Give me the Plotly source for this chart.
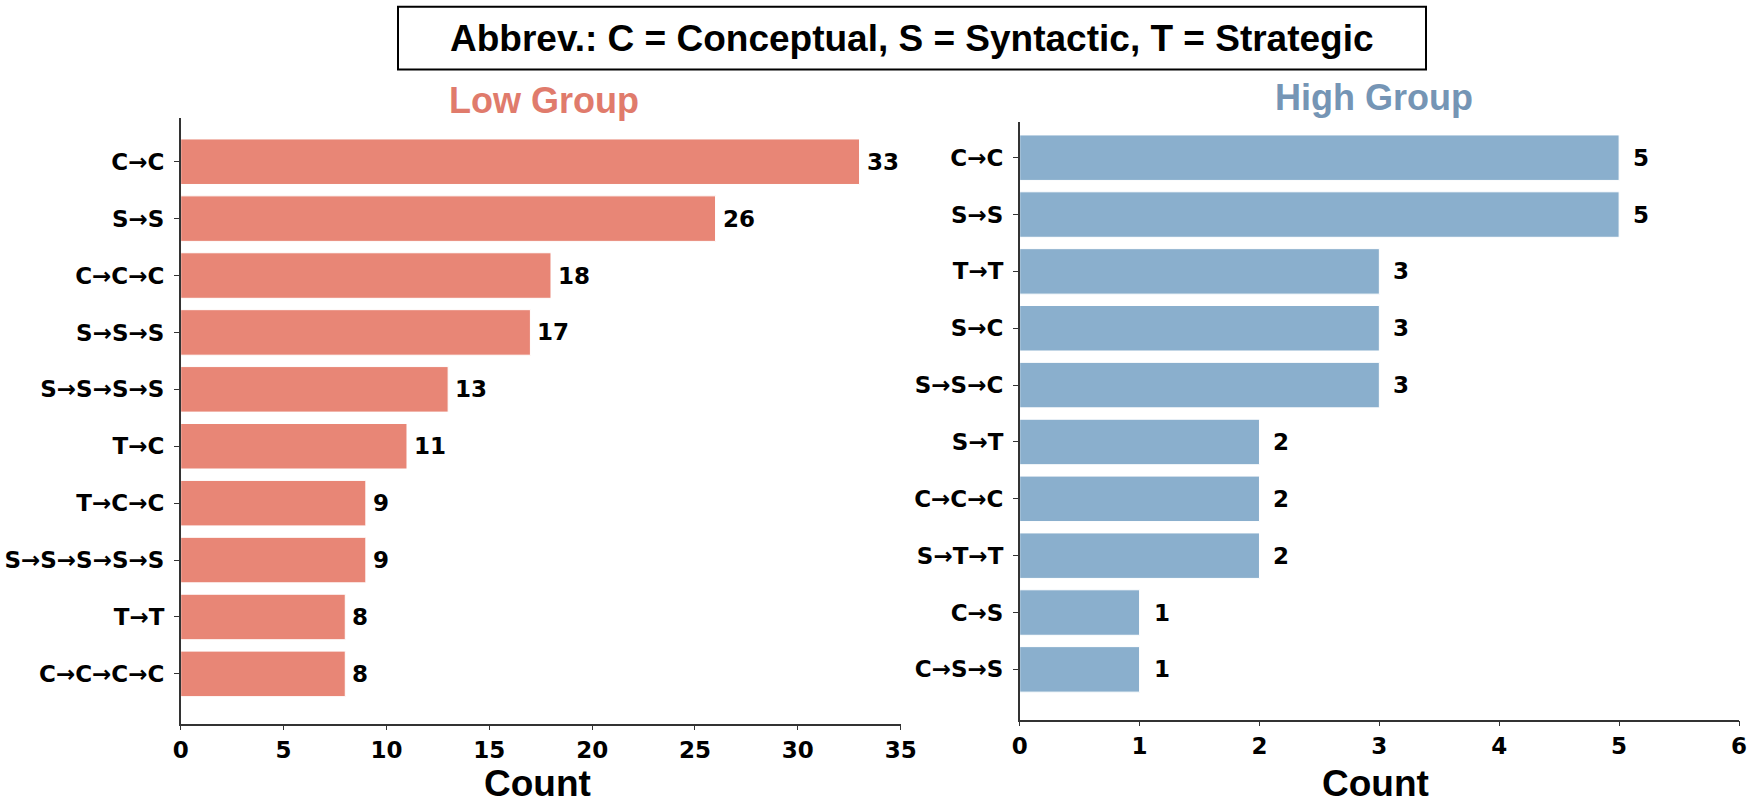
import plotly.graph_objects as go

# ---- data ----
low_labels = ["C→C", "S→S", "C→C→C", "S→S→S", "S→S→S→S", "T→C", "T→C→C",
              "S→S→S→S→S", "T→T", "C→C→C→C"]
low_counts = [33, 26, 18, 17, 13, 11, 9, 9, 8, 8]
high_labels = ["C→C", "S→S", "T→T", "S→C", "S→S→C", "S→T", "C→C→C",
               "S→T→T", "C→S", "C→S→S"]
high_counts = [5, 5, 3, 3, 3, 2, 2, 2, 1, 1]
low_xticks = [0, 5, 10, 15, 20, 25, 30, 35]
high_xticks = [0, 1, 2, 3, 4, 5, 6]

W, H = 1758, 808
LOW_BAR = "#E88676"
HIGH_BAR = "#8AAFCD"
LOW_TITLE = "#E07B6C"
HIGH_TITLE = "#7595B5"
AXC = "#333333"
TICKFONT = dict(family="DejaVu Sans", size=23, color="black", weight="bold")

def px_x(p):
    return p / W

def px_y(p):
    return 1 - p / H

fig = go.Figure()
fig.add_trace(go.Bar(
    x=low_counts, y=low_labels, orientation="h", width=0.8,
    marker=dict(color=LOW_BAR, line=dict(color="white", width=1)),
    xaxis="x", yaxis="y", showlegend=False, hoverinfo="x+y"))
fig.add_trace(go.Bar(
    x=high_counts, y=high_labels, orientation="h", width=0.8,
    marker=dict(color=HIGH_BAR, line=dict(color="white", width=1)),
    xaxis="x2", yaxis="y2", showlegend=False, hoverinfo="x+y"))

common_x = dict(showgrid=False, zeroline=False, showline=True, linecolor=AXC,
                linewidth=1.5, ticks="outside", ticklen=5, tickwidth=1,
                tickcolor=AXC, tickfont=TICKFONT, mirror=False, automargin=False)
common_y = dict(showgrid=False, zeroline=False, showline=True, linecolor=AXC,
                linewidth=1.5, ticks="outside", ticklen=5, tickwidth=1,
                tickcolor=AXC, tickfont=TICKFONT, type="category",
                ticklabelstandoff=5, automargin=False)

fig.update_layout(
    width=W, height=H, margin=dict(l=0, r=0, t=0, b=0, autoexpand=False),
    plot_bgcolor="white", paper_bgcolor="white", bargap=0.2,
    xaxis=dict(domain=[px_x(180.7), px_x(900.7)], range=[0, 35],
               tickvals=low_xticks, anchor="y", **common_x),
    yaxis=dict(domain=[px_y(723.5), px_y(118.3)], range=[9.872, -0.763],
               categoryorder="array", categoryarray=low_labels, anchor="x",
               **common_y),
    xaxis2=dict(domain=[px_x(1019.7), px_x(1739)], range=[0, 6],
                tickvals=high_xticks, anchor="y2", **common_x),
    yaxis2=dict(domain=[px_y(719.7), px_y(121.7)], range=[9.885, -0.633],
                categoryorder="array", categoryarray=high_labels, anchor="x2",
                **common_y),
)

ann = []
VALFONT = dict(family="DejaVu Sans", size=23, color="black", weight="bold")
for lab, v in zip(low_labels, low_counts):
    ann.append(dict(x=v, y=lab, xref="x", yref="y", text=str(v), showarrow=False,
                    xanchor="left", yanchor="middle", xshift=5, font=VALFONT))
for lab, v in zip(high_labels, high_counts):
    ann.append(dict(x=v, y=lab, xref="x2", yref="y2", text=str(v), showarrow=False,
                    xanchor="left", yanchor="middle", xshift=12, font=VALFONT))

TITLEFONT = dict(family="Liberation Sans", size=36, weight="bold")
ann.append(dict(x=(px_x(180.7) + px_x(900.7)) / 2 + 0.002, y=px_y(100), xref="paper", yref="paper",
                text="Low Group", showarrow=False, xanchor="center", yanchor="middle",
                font=dict(TITLEFONT, color=LOW_TITLE)))
ann.append(dict(x=(px_x(1019.7) + px_x(1739)) / 2 - 0.003, y=px_y(97), xref="paper", yref="paper",
                text="High Group", showarrow=False, xanchor="center", yanchor="middle",
                font=dict(TITLEFONT, color=HIGH_TITLE)))
for cx in [(px_x(180.7) + px_x(900.7)) / 2, (px_x(1019.7) + px_x(1739)) / 2]:
    ann.append(dict(x=cx - 0.002, y=px_y(783), xref="paper", yref="paper", text="Count",
                    showarrow=False, xanchor="center", yanchor="middle",
                    font=dict(family="Liberation Sans", size=37, color="black", weight="bold")))
ann.append(dict(x=px_x(912), y=px_y(38), xref="paper", yref="paper",
                text="Abbrev.: C = Conceptual, S = Syntactic, T = Strategic",
                showarrow=False, xanchor="center", yanchor="middle",
                font=dict(family="Liberation Sans", size=37, color="black", weight="bold")))
fig.update_layout(annotations=ann)

fig.add_shape(type="rect", xref="paper", yref="paper",
              x0=px_x(398), x1=px_x(1426), y0=px_y(69.5), y1=px_y(6.7),
              line=dict(color="black", width=2), fillcolor="rgba(0,0,0,0)")

fig.write_html("out.html")
